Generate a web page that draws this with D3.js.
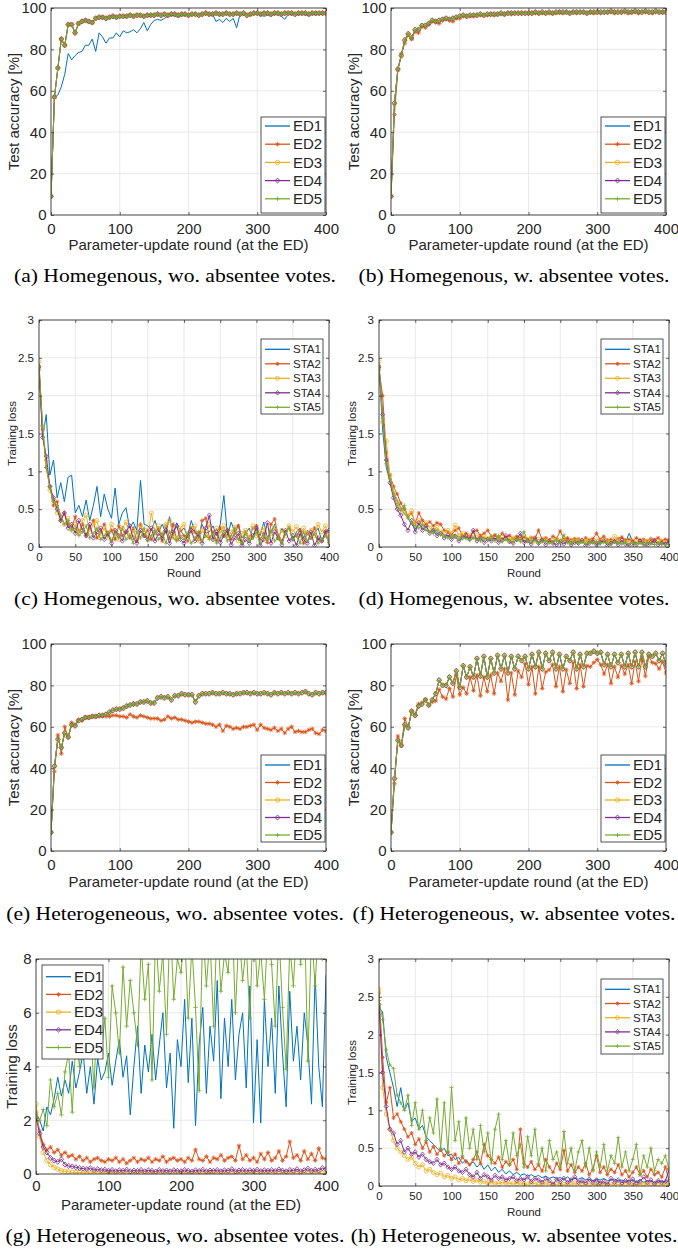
<!DOCTYPE html>
<html>
<head>
<meta charset="utf-8">
<script src="https://cdn.jsdelivr.net/npm/d3@7"></script>
<style>
  body { margin: 0; background: #fff; }
  svg text { font-family: "Liberation Sans", Arial, Helvetica, sans-serif; fill: #262626; }
  svg text.caption { font-family: "Liberation Serif", "Times New Roman", serif; fill: #000; }
</style>
</head>
<body>
<svg id="fig" width="678" height="1252"></svg>
<script>
const rounds = d3.range(0, 401, 5);

// Tick labels
const accTicksY = [0, 20, 40, 60, 80, 100];
const accTicksX = [0, 100, 200, 300, 400];
const lossTicksY = [0, 0.5, 1, 1.5, 2, 2.5, 3];
const lossTicksX = [0, 50, 100, 150, 200, 250, 300, 350, 400];
const lossGTicksY = [0, 2, 4, 6, 8];

const edNames = ["ED1", "ED2", "ED3", "ED4", "ED5"];
const staNames = ["STA1", "STA2", "STA3", "STA4", "STA5"];

// (a) Homogeneous, wo. absentee votes - test accuracy
const accA_ED1 = [
  9, 57, 58, 62, 68, 78, 75, 77, 78.5, 79,
  82, 82, 85, 79, 88, 86, 83, 85.5, 85.5, 88,
  86, 89, 88, 88.5, 89.5, 88, 90, 93, 89, 92,
  94, 94.5, 94, 95, 96, 96.5, 96, 95.5, 96, 96.5,
  96.5, 96.5, 97, 96.5, 97, 97, 96.5, 97, 93.5, 94.5,
  93, 95, 93.5, 95, 90.5, 97, 96.5, 97, 96.5, 97,
  97, 96.5, 96, 96.5, 96, 97, 96.5, 96, 94.5, 97,
  96.5, 97, 96.5, 97, 96.5, 96.5, 97, 96.5, 97, 97,
  97.5];
const accA_rest = [
  9, 57, 71, 85, 82, 92, 92, 88, 92.5, 93.5,
  94, 93.5, 93, 95, 95.5, 95.5, 95, 95.5, 96, 95.5,
  96, 96, 96, 96.5, 96, 96.5, 96.5, 96, 96.5, 96.5,
  96.5, 97, 96.5, 97, 96.5, 97, 97, 96.5, 97, 97,
  96.5, 97, 97, 96.5, 97, 97.5, 97, 97, 97.5, 97,
  97, 97.5, 97, 97, 97.5, 97, 97.5, 96.5, 97, 97.5,
  97.5, 97, 97.5, 97.5, 97, 97.5, 97.5, 97, 97.5, 97.5,
  97.5, 97, 97.5, 97.5, 97.5, 97, 97.5, 97.5, 97.5, 97.5,
  97.5];

// (b) Homogeneous, w. absentee votes - test accuracy
const accB_rest = [
  9, 54, 70.5, 77, 84.5, 87.5, 85.5, 89.5, 89.5, 91.5,
  91.5, 92.5, 94, 93.5, 94, 94.5, 95, 94.5, 95, 95.5,
  96, 96.5, 96, 96.5, 96.5, 96.5, 97, 96.5, 97, 97,
  97, 97, 97.5, 97, 97.5, 97.5, 97.5, 97.5, 97.5, 97.5,
  97.5, 97.5, 98, 97.5, 98, 97.5, 98, 97.5, 98, 98,
  98, 98, 97.5, 98, 98, 98, 98, 97.5, 98, 98,
  98, 98, 98, 98, 98.5, 98, 98, 98, 98.5, 98,
  98, 98.5, 98, 98, 98.5, 98, 98, 98.5, 98, 98,
  98];
const accB_ED2 = [
  9, 48.5, 70, 78, 83, 87, 85, 88.5, 88, 91,
  90.5, 92, 93.5, 93, 92.5, 94, 94.5, 94, 93.5, 95,
  95, 96, 96, 96, 96, 96.5, 96.5, 96.5, 96.5, 97,
  96.5, 97, 97, 97, 97.5, 97, 97.5, 97.5, 97.5, 97.5,
  97.5, 97.5, 97.5, 97.5, 97.5, 97.5, 97.5, 97.5, 97.5, 98,
  97.5, 98, 97.5, 98, 97.5, 98, 98, 97.5, 98, 97.5,
  98, 97.5, 98, 98, 98, 97.5, 98, 98, 98, 97.5,
  98, 98, 97.5, 98, 98, 98, 97.5, 98, 98, 98,
  98];

// (e) Heterogeneous, wo. absentee votes - test accuracy
const accE_rest = [
  9, 41, 54, 50, 57, 55, 61, 60.5, 63, 63.5,
  64.5, 64.5, 65, 65, 65.5, 65.5, 66, 67, 68, 68.5,
  68.5, 69, 70, 70.5, 71, 71, 72, 72, 72.5, 71.5,
  71.5, 74, 74.5, 74, 74.5, 73, 75, 75, 76, 75.5,
  75.5, 75.5, 72, 75, 76, 76, 76, 76.5, 76, 76,
  76.5, 76, 76, 75.5, 76, 76, 76.5, 76.5, 76, 76.5,
  76, 76, 76.5, 76, 75.5, 76.5, 76, 76.5, 76, 76.5,
  76, 76.5, 76, 76.5, 77, 76, 75.5, 76.5, 76, 76.5,
  76.5];
const accE_ED2 = [
  9, 38.5, 56, 47, 60, 55, 62, 61, 63.5, 63,
  64.5, 64.5, 65, 65, 65, 65, 65, 65, 65.5, 65.5,
  65, 65, 64.5, 66, 65, 64.5, 65.5, 65, 64.5, 64,
  64, 64, 63, 63.5, 65, 64, 64.5, 63.5, 63.5, 63,
  62.5, 62, 62.5, 62.5, 62, 61.5, 61.5, 61, 60, 61,
  58, 60.5, 60, 59, 59.5, 59, 60, 60, 60.5, 61,
  58.5, 61, 59.5, 59, 58.5, 59.5, 58, 59, 57, 59,
  60, 57.5, 58, 57.5, 57.5, 58.5, 59, 57, 56.5, 58.5,
  58];

// (f) Heterogeneous, w. absentee votes - test accuracy
const accF_rest = [
  9, 35, 53.5, 51, 61, 59.5, 67.5, 65.5, 70, 71,
  73, 70.5, 73, 76, 82.5, 80, 80, 84, 81, 87,
  79, 89.5, 84, 89, 84, 93, 84.5, 94, 84, 93,
  86, 94.5, 88, 94.5, 86, 94, 88, 94, 92, 94,
  88, 95, 89, 96, 88, 95.5, 92, 96, 88, 95,
  88, 94, 92, 96, 88, 95, 89, 95.5, 95.5, 96.5,
  95.5, 96, 90, 95, 89, 95, 91, 95, 89, 95.5,
  89, 96, 89, 96, 89, 95, 94, 95.5, 92, 95.5,
  90];
const accF_ED2 = [
  9, 32.5, 55.5, 51, 64, 60, 67.5, 66, 71, 71.5,
  73, 70.5, 72, 72.5, 78, 74.5, 73.5, 78.5, 74.5, 85,
  75.5, 79, 76, 84, 77.5, 85, 75, 84, 77, 85,
  76, 86, 82, 88, 73, 86, 75.5, 87, 84, 90.5,
  80.5, 89, 76, 89, 78.5, 86.5, 87.5, 90, 79.5, 89,
  77, 87.5, 81, 91, 78.5, 90, 79.5, 89.5, 89, 91,
  92.5, 90, 85.5, 90, 81, 89, 84, 89.5, 85.5, 90,
  81, 91.5, 82, 93, 84.5, 94, 91, 90.5, 88, 91.5,
  86];

// (c) Homogeneous, wo. absentee votes - training loss
const lossC1 = [
  2.40, 1.45, 1.75, 0.95, 1.15, 0.65, 0.85, 0.60, 0.92, 0.95,
  0.45, 0.55, 0.40, 0.62, 0.35, 0.55, 0.80, 0.40, 0.70, 0.50,
  0.38, 0.78, 0.30, 0.45, 0.52, 0.25, 0.33, 0.22, 0.88, 0.30,
  0.28, 0.22, 0.35, 0.20, 0.30, 0.18, 0.40, 0.15, 0.32, 0.20,
  0.25, 0.15, 0.35, 0.20, 0.12, 0.30, 0.18, 0.20, 0.28, 0.15,
  0.30, 0.68, 0.15, 0.33, 0.20, 0.30, 0.12, 0.18, 0.25, 0.10,
  0.28, 0.15, 0.33, 0.12, 0.20, 0.30, 0.10, 0.25, 0.15, 0.28,
  0.08, 0.20, 0.25, 0.12, 0.22, 0.10, 0.18, 0.25, 0.08, 0.15,
  0.10];
const lossC2 = [
  2.35, 1.55, 1.05, 0.80, 0.55, 0.60, 0.35, 0.45, 0.30, 0.25,
  0.40, 0.20, 0.30, 0.15, 0.25, 0.35, 0.12, 0.20, 0.30, 0.15,
  0.22, 0.10, 0.28, 0.15, 0.20, 0.12, 0.25, 0.08, 0.30, 0.15,
  0.22, 0.10, 0.18, 0.25, 0.08, 0.28, 0.12, 0.30, 0.10, 0.22,
  0.15, 0.08, 0.25, 0.20, 0.10, 0.35, 0.38, 0.12, 0.20, 0.08,
  0.25, 0.15, 0.22, 0.10, 0.18, 0.28, 0.05, 0.20, 0.12, 0.25,
  0.28, 0.10, 0.18, 0.06, 0.30, 0.37, 0.15, 0.08, 0.20, 0.25,
  0.10, 0.15, 0.22, 0.05, 0.18, 0.12, 0.25, 0.10, 0.08, 0.20,
  0.06];
const lossC3 = [
  2.45, 1.60, 1.15, 0.75, 0.62, 0.45, 0.40, 0.30, 0.38, 0.22,
  0.30, 0.18, 0.35, 0.42, 0.20, 0.30, 0.35, 0.15, 0.25, 0.12,
  0.30, 0.20, 0.10, 0.25, 0.33, 0.15, 0.22, 0.10, 0.28, 0.18,
  0.12, 0.45, 0.20, 0.28, 0.15, 0.30, 0.35, 0.18, 0.10, 0.25,
  0.30, 0.12, 0.20, 0.28, 0.08, 0.22, 0.15, 0.30, 0.10, 0.25,
  0.18, 0.28, 0.12, 0.20, 0.26, 0.08, 0.18, 0.22, 0.12, 0.28,
  0.15, 0.20, 0.25, 0.10, 0.18, 0.26, 0.12, 0.22, 0.15, 0.28,
  0.20, 0.27, 0.12, 0.25, 0.18, 0.22, 0.15, 0.30, 0.20, 0.28,
  0.12];
const lossC4 = [
  2.38, 1.45, 1.20, 0.80, 0.65, 0.50, 0.35, 0.45, 0.25, 0.30,
  0.18, 0.35, 0.22, 0.15, 0.30, 0.12, 0.20, 0.25, 0.10, 0.18,
  0.05, 0.22, 0.15, 0.08, 0.20, 0.28, 0.12, 0.05, 0.22, 0.15,
  0.10, 0.25, 0.08, 0.18, 0.12, 0.22, 0.05, 0.20, 0.28, 0.10,
  0.05, 0.15, 0.22, 0.08, 0.18, 0.05, 0.25, 0.42, 0.10, 0.20,
  0.06, 0.15, 0.22, 0.03, 0.12, 0.18, 0.02, 0.10, 0.05, 0.15,
  0.25, 0.02, 0.10, 0.32, 0.05, 0.20, 0.12, 0.03, 0.22, 0.08,
  0.15, 0.02, 0.18, 0.10, 0.05, 0.20, 0.02, 0.12, 0.08, 0.20,
  0.22];
const lossC5 = [
  2.40, 1.60, 1.05, 0.78, 0.60, 0.55, 0.42, 0.30, 0.35, 0.22,
  0.25, 0.15, 0.20, 0.28, 0.12, 0.18, 0.25, 0.10, 0.15, 0.20,
  0.08, 0.18, 0.12, 0.25, 0.10, 0.15, 0.05, 0.20, 0.12, 0.25,
  0.08, 0.15, 0.22, 0.10, 0.18, 0.05, 0.20, 0.12, 0.08, 0.15,
  0.10, 0.18, 0.05, 0.12, 0.20, 0.08, 0.15, 0.10, 0.18, 0.05,
  0.12, 0.22, 0.08, 0.15, 0.25, 0.10, 0.05, 0.18, 0.08, 0.12,
  0.20, 0.05, 0.15, 0.10, 0.22, 0.08, 0.12, 0.05, 0.18, 0.25,
  0.10, 0.15, 0.05, 0.20, 0.08, 0.12, 0.18, 0.05, 0.10, 0.15,
  0.06];

// (d) Homogeneous, w. absentee votes - training loss
const lossD1 = [
  2.40, 1.55, 1.05, 0.88, 0.72, 0.62, 0.52, 0.44, 0.38, 0.30,
  0.24, 0.30, 0.26, 0.22, 0.20, 0.24, 0.18, 0.20, 0.16, 0.15,
  0.14, 0.17, 0.13, 0.15, 0.12, 0.14, 0.12, 0.11, 0.13, 0.12,
  0.10, 0.12, 0.11, 0.10, 0.12, 0.09, 0.10, 0.11, 0.09, 0.10,
  0.08, 0.10, 0.09, 0.08, 0.10, 0.09, 0.08, 0.07, 0.09, 0.08,
  0.07, 0.09, 0.08, 0.07, 0.08, 0.07, 0.06, 0.08, 0.07, 0.09,
  0.06, 0.07, 0.08, 0.06, 0.07, 0.06, 0.08, 0.07, 0.06, 0.18,
  0.07, 0.06, 0.05, 0.07, 0.06, 0.05, 0.06, 0.07, 0.05, 0.06,
  0.05];
const lossD2 = [
  2.35, 2.00, 1.25, 0.95, 0.80, 0.70, 0.58, 0.50, 0.40, 0.45,
  0.32, 0.45, 0.35, 0.30, 0.33, 0.28, 0.32, 0.30, 0.22, 0.20,
  0.16, 0.22, 0.25, 0.15, 0.18, 0.14, 0.20, 0.22, 0.15, 0.18,
  0.22, 0.14, 0.16, 0.12, 0.18, 0.13, 0.15, 0.11, 0.14, 0.12,
  0.13, 0.10, 0.12, 0.11, 0.22, 0.10, 0.12, 0.09, 0.14, 0.11,
  0.21, 0.10, 0.12, 0.09, 0.11, 0.10, 0.08, 0.12, 0.09, 0.11,
  0.18, 0.10, 0.14, 0.09, 0.10, 0.08, 0.11, 0.13, 0.09, 0.10,
  0.08, 0.12, 0.09, 0.10, 0.08, 0.11, 0.09, 0.12, 0.08, 0.10,
  0.09];
const lossD3 = [
  2.45, 1.65, 1.40, 0.95, 0.75, 0.60, 0.50, 0.45, 0.42, 0.48,
  0.30, 0.35, 0.28, 0.32, 0.25, 0.22, 0.26, 0.20, 0.18, 0.22,
  0.18, 0.29, 0.15, 0.18, 0.14, 0.16, 0.13, 0.15, 0.12, 0.14,
  0.11, 0.13, 0.12, 0.10, 0.13, 0.11, 0.09, 0.12, 0.10, 0.11,
  0.09, 0.10, 0.12, 0.08, 0.10, 0.09, 0.11, 0.08, 0.09, 0.10,
  0.08, 0.10, 0.07, 0.09, 0.08, 0.10, 0.07, 0.08, 0.09, 0.07,
  0.08, 0.07, 0.09, 0.08, 0.06, 0.14, 0.08, 0.07, 0.09, 0.06,
  0.08, 0.07, 0.06, 0.08, 0.07, 0.09, 0.06, 0.07, 0.08, 0.06,
  0.07];
const lossD4 = [
  2.38, 1.75, 1.15, 0.85, 0.65, 0.50, 0.42, 0.30, 0.22, 0.35,
  0.20, 0.32, 0.22, 0.28, 0.18, 0.22, 0.15, 0.18, 0.12, 0.16,
  0.10, 0.14, 0.08, 0.12, 0.15, 0.10, 0.22, 0.08, 0.12, 0.06,
  0.10, 0.08, 0.12, 0.06, 0.09, 0.15, 0.07, 0.05, 0.10, 0.18,
  0.06, 0.08, 0.04, 0.12, 0.05, 0.09, 0.03, 0.08, 0.05, 0.03,
  0.07, 0.04, 0.08, 0.03, 0.06, 0.05, 0.09, 0.02, 0.05, 0.07,
  0.03, 0.06, 0.08, 0.02, 0.05, 0.07, 0.03, 0.09, 0.04, 0.02,
  0.06, 0.03, 0.08, 0.04, 0.02, 0.06, 0.09, 0.03, 0.05, 0.04,
  0.08];
const lossD5 = [
  2.40, 1.70, 1.10, 0.90, 0.70, 0.55, 0.48, 0.55, 0.38, 0.32,
  0.28, 0.25, 0.30, 0.22, 0.20, 0.18, 0.22, 0.16, 0.14, 0.12,
  0.12, 0.15, 0.10, 0.13, 0.11, 0.09, 0.12, 0.10, 0.08, 0.11,
  0.09, 0.12, 0.08, 0.15, 0.07, 0.10, 0.08, 0.06, 0.11, 0.07,
  0.20, 0.08, 0.06, 0.09, 0.05, 0.07, 0.08, 0.05, 0.06, 0.09,
  0.05, 0.16, 0.06, 0.04, 0.08, 0.05, 0.07, 0.04, 0.06, 0.05,
  0.07, 0.04, 0.06, 0.05, 0.03, 0.07, 0.05, 0.04, 0.06, 0.03,
  0.05, 0.04, 0.06, 0.03, 0.05, 0.04, 0.03, 0.05, 0.04, 0.03,
  0.04];

// (g) Heterogeneous, wo. absentee votes - training loss
const lossG1 = [
  2.3, 2.0, 1.6, 2.5, 2.2, 2.8, 3.6, 2.9, 3.5, 3.0,
  4.2, 3.2, 3.8, 4.5, 3.0, 4.0, 2.6, 4.3, 3.5, 3.8,
  4.5, 3.3, 4.2, 5.0, 3.6, 4.4, 2.2, 4.0, 5.5, 3.0,
  4.8, 3.8, 5.2, 3.5, 4.8, 6.0, 3.2, 4.5, 1.7, 5.0,
  4.0, 6.5, 3.4, 5.8, 1.8, 4.8, 6.2, 3.0, 5.5, 4.2,
  7.2, 2.8, 5.8, 4.0, 6.5, 3.5, 5.2, 6.0, 3.2, 7.0,
  1.9, 5.0, 1.9, 6.5, 4.0, 5.8, 3.0, 7.0, 4.5, 2.5,
  6.8, 4.2, 5.5, 3.5, 6.0, 4.8, 2.6, 7.4, 4.0, 2.5,
  7.4];
const lossG2 = [
  2.3, 1.6, 1.1, 0.9, 1.0, 0.8, 0.9, 0.7, 0.8, 0.65,
  0.7, 0.55, 0.65, 0.5, 0.6, 0.45, 0.55, 0.6, 0.5, 0.45,
  0.55, 0.5, 0.6, 0.45, 0.55, 0.4, 0.5, 0.6, 0.45, 0.55,
  0.5, 0.6, 0.45, 0.55, 0.5, 0.65, 0.45, 0.55, 0.6, 0.5,
  0.55, 0.45, 0.6, 0.5, 0.9, 0.55, 0.5, 0.65, 0.45, 0.6,
  0.55, 0.7, 0.5, 0.6, 0.65, 0.5, 1.05, 0.55, 0.7, 0.5,
  0.6, 0.45, 0.75, 0.55, 0.8, 0.5, 0.6, 0.85, 0.5, 0.65,
  1.2, 0.6, 0.7, 0.5, 0.85, 0.55, 0.75, 0.5, 0.95, 0.6,
  0.55];
const lossG3 = [
  2.6, 1.4, 0.8, 0.5, 0.35, 0.25, 0.18, 0.12, 0.1, 0.08,
  0.06, 0.05, 0.06, 0.04, 0.05, 0.03, 0.05, 0.04, 0.03, 0.04,
  0.03, 0.04, 0.03, 0.05, 0.03, 0.04, 0.02, 0.04, 0.03, 0.05,
  0.03, 0.04, 0.02, 0.03, 0.04, 0.03, 0.05, 0.02, 0.03, 0.04,
  0.03, 0.02, 0.04, 0.03, 0.05, 0.02, 0.03, 0.04, 0.02, 0.03,
  0.04, 0.03, 0.02, 0.05, 0.03, 0.02, 0.04, 0.03, 0.02, 0.04,
  0.03, 0.02, 0.04, 0.03, 0.02, 0.05, 0.03, 0.02, 0.04, 0.03,
  0.02, 0.04, 0.03, 0.02, 0.05, 0.03, 0.02, 0.04, 0.03, 0.02,
  0.03];
const lossG4 = [
  2.1, 1.5, 1.0, 0.8, 0.6, 0.5, 0.45, 0.55, 0.35, 0.3,
  0.28, 0.25, 0.22, 0.2, 0.18, 0.22, 0.15, 0.18, 0.14, 0.16,
  0.12, 0.15, 0.1, 0.14, 0.12, 0.16, 0.1, 0.13, 0.11, 0.15,
  0.1, 0.14, 0.12, 0.09, 0.15, 0.11, 0.13, 0.1, 0.14, 0.12,
  0.1, 0.15, 0.12, 0.09, 0.14, 0.11, 0.16, 0.1, 0.13, 0.12,
  0.15, 0.1, 0.14, 0.12, 0.18, 0.1, 0.13, 0.15, 0.11, 0.14,
  0.12, 0.16, 0.1, 0.14, 0.12, 0.15, 0.11, 0.17, 0.13, 0.1,
  0.15, 0.12, 0.18, 0.1, 0.14, 0.2, 0.12, 0.16, 0.13, 0.22,
  0.18];
const lossG5 = [
  2.2, 2.0, 2.4, 1.8, 3.5, 2.5, 3.0, 2.2, 3.8, 4.5,
  2.3, 5.0, 4.0, 6.2, 4.5, 5.5, 3.2, 6.5, 4.5, 5.8,
  3.6, 7.0, 6.0, 4.5, 7.7, 5.5, 7.2, 6.0, 4.8, 8.5,
  6.5, 7.8, 3.5, 9.0, 6.8, 8.2, 5.2, 9.5, 6.5, 8.0,
  7.5, 9.0, 5.8, 8.5, 6.2, 3.1, 9.2, 7.0, 8.8, 5.5,
  9.5, 6.8, 8.2, 7.5, 10, 6.0, 9.0, 7.2, 8.5, 5.8,
  9.8, 7.0, 8.3, 6.5, 9.2, 7.8, 5.5, 9.0, 6.2, 3.9,
  8.5, 7.0, 9.5, 7.8, 10, 4.2, 9.0, 7.0, 9.5, 8.0,
  9.0];

// (h) Heterogeneous, w. absentee votes - training loss
const lossH1 = [
  2.35, 2.3, 1.7, 1.5, 1.3, 1.05, 1.3, 1.0, 1.1, 0.85,
  0.9, 0.75, 0.8, 0.65, 0.6, 0.55, 0.5, 0.45, 0.5, 0.4,
  0.42, 0.35, 0.38, 0.3, 0.35, 0.28, 0.32, 0.25, 0.3, 0.22,
  0.28, 0.2, 0.25, 0.18, 0.22, 0.16, 0.2, 0.15, 0.18, 0.14,
  0.16, 0.13, 0.15, 0.12, 0.14, 0.11, 0.13, 0.1, 0.12, 0.1,
  0.11, 0.09, 0.12, 0.08, 0.1, 0.09, 0.11, 0.08, 0.09, 0.07,
  0.09, 0.08, 0.1, 0.07, 0.08, 0.09, 0.07, 0.08, 0.06, 0.08,
  0.07, 0.06, 0.08, 0.05, 0.07, 0.06, 0.05, 0.07, 0.06, 0.05,
  0.06];
const lossH2 = [
  2.55, 1.7, 1.1, 1.3, 0.9, 0.95, 0.85, 0.75, 0.65, 0.7,
  0.55, 0.62, 0.5, 0.58, 0.45, 0.52, 0.42, 0.48, 0.4, 0.45,
  0.35, 0.42, 0.3, 0.38, 0.32, 0.28, 0.35, 0.45, 0.3, 0.55,
  0.4, 0.35, 0.3, 0.38, 0.25, 0.32, 0.28, 0.35, 0.22, 0.75,
  0.3, 0.25, 0.32, 0.22, 0.28, 0.2, 0.35, 0.25, 0.18, 0.3,
  0.22, 0.47, 0.2, 0.28, 0.18, 0.25, 0.2, 0.3, 0.15, 0.22,
  0.4, 0.18, 0.25, 0.15, 0.22, 0.18, 0.28, 0.15, 0.2, 0.12,
  0.18, 0.25, 0.15, 0.2, 0.12, 0.22, 0.15, 0.18, 0.12, 0.25,
  0.07];
const lossH3 = [
  2.6, 1.3, 0.95, 0.75, 0.6, 0.5, 0.45, 0.4, 0.35, 0.38,
  0.3, 0.25, 0.28, 0.2, 0.22, 0.18, 0.15, 0.17, 0.12, 0.14,
  0.1, 0.12, 0.08, 0.1, 0.07, 0.09, 0.06, 0.08, 0.05, 0.06,
  0.04, 0.05, 0.04, 0.03, 0.05, 0.04, 0.03, 0.04, 0.03, 0.04,
  0.03, 0.02, 0.04, 0.03, 0.02, 0.03, 0.04, 0.02, 0.03, 0.02,
  0.03, 0.02, 0.03, 0.02, 0.04, 0.02, 0.03, 0.02, 0.03, 0.02,
  0.02, 0.03, 0.02, 0.03, 0.02, 0.03, 0.02, 0.02, 0.03, 0.02,
  0.03, 0.02, 0.02, 0.03, 0.02, 0.03, 0.02, 0.03, 0.02, 0.02,
  0.03];
const lossH4 = [
  2.4, 1.5, 1.05, 0.75, 0.7, 0.55, 0.6, 0.45, 0.5, 0.42,
  0.45, 0.38, 0.42, 0.35, 0.32, 0.3, 0.35, 0.28, 0.3, 0.25,
  0.22, 0.25, 0.2, 0.18, 0.22, 0.15, 0.12, 0.18, 0.1, 0.15,
  0.12, 0.08, 0.14, 0.1, 0.12, 0.08, 0.1, 0.12, 0.07, 0.1,
  0.08, 0.12, 0.06, 0.1, 0.08, 0.05, 0.1, 0.07, 0.02, 0.09,
  0.06, 0.1, 0.05, 0.08, 0.12, 0.05, 0.07, 0.04, 0.09, 0.05,
  0.08, 0.04, 0.06, 0.02, 0.1, 0.05, 0.08, 0.04, 0.07, 0.05,
  0.09, 0.04, 0.06, 0.12, 0.05, 0.08, 0.03, 0.07, 0.05, 0.06,
  0.22];
const lossH5 = [
  2.45, 2.2, 1.8, 1.6, 1.55, 1.2, 1.1, 1.0, 1.2, 0.8,
  1.1, 0.75, 1.0, 0.6, 0.9, 0.7, 1.15, 0.5, 1.1, 0.45,
  1.3, 0.6, 0.85, 0.4, 0.9, 0.5, 0.75, 0.35, 0.8, 0.45,
  0.7, 0.3, 0.75, 0.95, 0.35, 0.6, 0.28, 0.7, 0.4, 0.55,
  0.25, 0.65, 0.4, 0.75, 0.3, 0.5, 0.2, 0.6, 0.35, 0.45,
  0.25, 0.72, 0.3, 0.5, 0.2, 0.45, 0.6, 0.25, 0.5, 0.2,
  0.45, 0.25, 0.55, 0.2, 0.4, 0.3, 0.64, 0.25, 0.45, 0.2,
  0.35, 0.55, 0.15, 0.4, 0.25, 0.5, 0.2, 0.35, 0.3, 0.4,
  0.22];

// MATLAB default colour order and marker per series
const colors = ["#0072BD", "#D95319", "#EDB120", "#7E2F8E", "#77AC30"];
const markers = [null, "star", "circle", "diamond", "plus"];

const svg = d3.select("#fig");
svg.append("rect").attr("width", 678).attr("height", 1252).attr("fill", "#fff");
const defs = svg.append("defs");

function markerPath(type, x, y, s) {
  const h = s / 2, k = h * 0.72;
  if (type === "circle") {
    return `M${x + h},${y}A${h},${h} 0 1 0 ${x - h},${y}A${h},${h} 0 1 0 ${x + h},${y}`;
  }
  if (type === "diamond") {
    return `M${x},${y - h * 1.15}L${x + h},${y}L${x},${y + h * 1.15}L${x - h},${y}Z`;
  }
  if (type === "plus") {
    return `M${x - h},${y}L${x + h},${y}M${x},${y - h}L${x},${y + h}`;
  }
  // star (asterisk)
  return `M${x - h},${y}L${x + h},${y}M${x},${y - h}L${x},${y + h}` +
         `M${x - k},${y - k}L${x + k},${y + k}M${x - k},${y + k}L${x + k},${y - k}`;
}

function drawPanel(p) {
  const x = d3.scaleLinear().domain([0, 400]).range([p.left, p.right]);
  const y = d3.scaleLinear().domain(p.yDomain).range([p.bottom, p.top]);
  const g = svg.append("g");
  const fmt = d => String(d);

  // grid
  g.append("g").selectAll("line").data(p.xTicks).join("line")
    .attr("x1", d => x(d)).attr("x2", d => x(d))
    .attr("y1", p.top).attr("y2", p.bottom)
    .attr("stroke", "#e3e3e3").attr("stroke-width", 0.8);
  g.append("g").selectAll("line").data(p.yTicks).join("line")
    .attr("y1", d => y(d)).attr("y2", d => y(d))
    .attr("x1", p.left).attr("x2", p.right)
    .attr("stroke", "#e3e3e3").attr("stroke-width", 0.8);

  // series, clipped to the axes box
  defs.append("clipPath").attr("id", "clip-" + p.id).append("rect")
    .attr("x", p.left).attr("y", p.top)
    .attr("width", p.right - p.left).attr("height", p.bottom - p.top);
  const plot = g.append("g").attr("clip-path", `url(#clip-${p.id})`);
  const line = d3.line().defined(d => d[1] != null).x(d => x(d[0])).y(d => y(d[1]));

  p.series.forEach((vals, i) => {
    const pts = rounds.map((r, j) => [r, vals[j]]).filter(d => d[1] != null);
    plot.append("path").attr("d", line(pts))
      .attr("fill", "none").attr("stroke", colors[i])
      .attr("stroke-width", p.lw).attr("stroke-linejoin", "round");
    if (markers[i]) {
      plot.append("path")
        .attr("d", pts.map(d => markerPath(markers[i], x(d[0]), y(d[1]), p.ms)).join(""))
        .attr("fill", "none").attr("stroke", colors[i]).attr("stroke-width", 0.8);
    }
  });

  // axes
  const fs = p.fs + "px";
  const ax = g.append("g").attr("transform", `translate(0,${p.bottom})`)
    .call(d3.axisBottom(x).tickValues(p.xTicks).tickFormat(fmt).tickSize(-3).tickPadding(p.xPad));
  const ay = g.append("g").attr("transform", `translate(${p.left},0)`)
    .call(d3.axisLeft(y).tickValues(p.yTicks).tickFormat(fmt).tickSize(-3).tickPadding(p.yPad));
  const at = g.append("g").attr("transform", `translate(0,${p.top})`)
    .call(d3.axisTop(x).tickValues(p.xTicks).tickFormat("").tickSize(-3));
  const ar = g.append("g").attr("transform", `translate(${p.right},0)`)
    .call(d3.axisRight(y).tickValues(p.yTicks).tickFormat("").tickSize(-3));
  [ax, ay, at, ar].forEach(a => {
    a.select(".domain").remove();
    a.selectAll(".tick line").attr("stroke", "#262626").attr("stroke-width", 0.7);
    a.selectAll("text").attr("font-size", fs).attr("font-family", null).attr("fill", "#262626");
  });
  g.append("rect").attr("x", p.left).attr("y", p.top)
    .attr("width", p.right - p.left).attr("height", p.bottom - p.top)
    .attr("fill", "none").attr("stroke", "#262626").attr("stroke-width", 0.8);

  // axis labels
  g.append("text").attr("x", (p.left + p.right) / 2).attr("y", p.bottom + p.xLabelDy)
    .attr("text-anchor", "middle").attr("font-size", fs).text(p.xLabel);
  g.append("text")
    .attr("transform", `translate(${p.left - p.yLabelDx},${(p.top + p.bottom) / 2}) rotate(-90)`)
    .attr("text-anchor", "middle").attr("font-size", fs).text(p.yLabel);

  // legend
  const L = p.legend;
  const lg = g.append("g");
  lg.append("rect").attr("x", L.x0).attr("y", L.y0)
    .attr("width", L.x1 - L.x0).attr("height", L.y1 - L.y0)
    .attr("fill", "#fff").attr("stroke", "#262626").attr("stroke-width", 0.8);
  p.names.forEach((name, i) => {
    const ry = L.row0 + i * L.step;
    lg.append("line").attr("x1", L.x0 + 4).attr("x2", L.x0 + 29)
      .attr("y1", ry).attr("y2", ry)
      .attr("stroke", colors[i]).attr("stroke-width", 1.3);
    if (markers[i]) {
      lg.append("path").attr("d", markerPath(markers[i], L.x0 + 16.5, ry, p.ms))
        .attr("fill", "none").attr("stroke", colors[i]).attr("stroke-width", 0.8);
    }
    lg.append("text").attr("x", L.x0 + 32).attr("y", ry).attr("dy", "0.35em")
      .attr("font-size", fs).text(name);
  });

  // caption (figure scaled wider than tall, so stretch it horizontally)
  svg.append("text").attr("class", "caption")
    .attr("transform", `translate(${p.capX},${p.capY}) scale(1.2,1)`)
    .attr("text-anchor", "middle").attr("font-size", "18px").text(p.caption);
}

const accLabelX = "Parameter-update round (at the ED)";
const big = { fs: 15, xPad: 8.5, yPad: 4.5, xLabelDy: 35, yLabelDx: 32, lw: 1, ms: 4.5 };
const small = { fs: 11.5, xPad: 6, yPad: 5, xLabelDy: 30, yLabelDx: 23, lw: 1, ms: 4 };

const panels = [
  Object.assign({}, big, {
    id: "a", left: 51, right: 326, top: 8, bottom: 215,
    yDomain: [0, 100], yTicks: accTicksY, xTicks: accTicksX,
    series: [accA_ED1, accA_rest, accA_rest, accA_rest, accA_rest], names: edNames,
    xLabel: accLabelX, yLabel: "Test accuracy [%]",
    legend: { x0: 261, y0: 117, x1: 325, y1: 213, row0: 126, step: 18.2 },
    caption: "(a) Homegenous, wo. absentee votes.", capX: 175, capY: 282 }),
  Object.assign({}, big, {
    id: "b", left: 391, right: 666, top: 8, bottom: 215,
    yDomain: [0, 100], yTicks: accTicksY, xTicks: accTicksX,
    series: [accB_rest, accB_ED2, accB_rest, accB_rest, accB_rest], names: edNames,
    xLabel: accLabelX, yLabel: "Test accuracy [%]",
    legend: { x0: 601, y0: 117, x1: 665, y1: 213, row0: 126, step: 18.2 },
    caption: "(b) Homegenous, w. absentee votes.", capX: 514, capY: 282 }),
  Object.assign({}, small, {
    id: "c", left: 39, right: 329, top: 320, bottom: 547,
    yDomain: [0, 3], yTicks: lossTicksY, xTicks: lossTicksX,
    series: [lossC1, lossC2, lossC3, lossC4, lossC5], names: staNames,
    xLabel: "Round", yLabel: "Training loss",
    legend: { x0: 261, y0: 339, x1: 323, y1: 414, row0: 349.3, step: 14.5 },
    caption: "(c) Homegenous, wo. absentee votes.", capX: 175, capY: 605 }),
  Object.assign({}, small, {
    id: "d", left: 379, right: 669, top: 320, bottom: 547,
    yDomain: [0, 3], yTicks: lossTicksY, xTicks: lossTicksX,
    series: [lossD1, lossD2, lossD3, lossD4, lossD5], names: staNames,
    xLabel: "Round", yLabel: "Training loss",
    legend: { x0: 601, y0: 339, x1: 663, y1: 414, row0: 349.3, step: 14.5 },
    caption: "(d) Homegenous, w. absentee votes.", capX: 514, capY: 605 }),
  Object.assign({}, big, {
    id: "e", left: 51, right: 326, top: 644, bottom: 851, xLabelDy: 36,
    yDomain: [0, 100], yTicks: accTicksY, xTicks: accTicksX,
    series: [accE_rest, accE_ED2, accE_rest, accE_rest, accE_rest], names: edNames,
    xLabel: accLabelX, yLabel: "Test accuracy [%]",
    legend: { x0: 261, y0: 755, x1: 325, y1: 842, row0: 765, step: 17.5 },
    caption: "(e) Heterogeneous, wo. absentee votes.", capX: 175, capY: 920 }),
  Object.assign({}, big, {
    id: "f", left: 391, right: 666, top: 644, bottom: 851, xLabelDy: 36,
    yDomain: [0, 100], yTicks: accTicksY, xTicks: accTicksX,
    series: [accF_rest, accF_ED2, accF_rest, accF_rest, accF_rest], names: edNames,
    xLabel: accLabelX, yLabel: "Test accuracy [%]",
    legend: { x0: 601, y0: 755, x1: 665, y1: 842, row0: 765, step: 17.5 },
    caption: "(f) Heterogeneous, w. absentee votes.", capX: 514, capY: 920 }),
  Object.assign({}, big, {
    id: "g", left: 36, right: 326, top: 959, bottom: 1174, xPad: 6, xLabelDy: 36, yLabelDx: 19,
    yDomain: [0, 8], yTicks: lossGTicksY, xTicks: accTicksX,
    series: [lossG1, lossG2, lossG3, lossG4, lossG5], names: edNames,
    xLabel: accLabelX, yLabel: "Training loss",
    legend: { x0: 42, y0: 965, x1: 103, y1: 1059, row0: 976.7, step: 17.7 },
    caption: "(g) Heterogeneous, wo. absentee votes.", capX: 175, capY: 1242 }),
  Object.assign({}, small, {
    id: "h", left: 379, right: 669, top: 959, bottom: 1186,
    yDomain: [0, 3], yTicks: lossTicksY, xTicks: lossTicksX,
    series: [lossH1, lossH2, lossH3, lossH4, lossH5], names: staNames,
    xLabel: "Round", yLabel: "Training loss",
    legend: { x0: 601, y0: 979, x1: 663, y1: 1054, row0: 989.3, step: 14.2 },
    caption: "(h) Heterogeneous, w. absentee votes.", capX: 514, capY: 1242 })
];

panels.forEach(drawPanel);
</script>
</body>
</html>
